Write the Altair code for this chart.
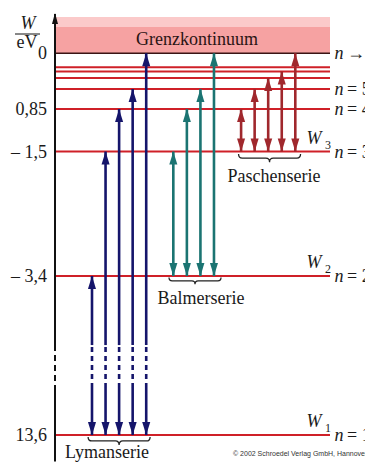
import altair as alt
import pandas as pd

# ---------------- data ----------------
level_n = [1, 2, 3, 4, 5, 6, 7, 8]
level_W = [-13.6, -3.4, -1.5, -0.85, -0.544, -0.378, -0.278, -0.2125]
limit_W = 0.0

series_names = ["Lymanserie", "Balmerserie", "Paschenserie"]
series_colors = ["#15156b", "#1b7472", "#a0282d"]

lyman_slot = [0, 1, 2, 3, 4]
lyman_upper = [-3.4, -1.5, -0.85, -0.544, 0.0]
lyman_lower = -13.6
balmer_slot = [6, 7, 8, 9]
balmer_upper = [-1.5, -0.85, -0.544, 0.0]
balmer_lower = -3.4
paschen_slot = [11, 12, 13, 14, 15]
paschen_upper = [-0.85, -0.544, -0.378, -0.278, 0.0]
paschen_lower = -1.5

tick_values = [0, -0.85, -1.5, -3.4, -13.6]
tick_labels = ["0", "0,85", "\u2013 1,5", "\u2013 3,4", "13,6"]

right_W = [0.0, -0.544, -0.85, -1.5, -3.4, -13.6]
right_text = ["\u2192 \u221e", "= 5", "= 4", "= 3", "= 2", "= 1"]

wlabel_W = [-1.5, -3.4, -13.6]
wlabel_sub = ["3", "2", "1"]

# axis break (drawn dashed)
gap_hi, gap_lo = -7.83, -10.58

# ---------------- tables ----------------
arrows = []
for s, lo, ups, slots in [
    ("Lymanserie", lyman_lower, lyman_upper, lyman_slot),
    ("Balmerserie", balmer_lower, balmer_upper, balmer_slot),
    ("Paschenserie", paschen_lower, paschen_upper, paschen_slot),
]:
    for sl, up in zip(slots, ups):
        arrows.append({"series": s, "slot": sl, "lower": lo, "upper": up})
arrows = pd.DataFrame(arrows)

solid = []
dashed = []
for _, r in arrows.iterrows():
    if r.series == "Lymanserie":
        solid.append({"series": r.series, "slot": r.slot, "a": r.lower, "b": gap_lo})
        solid.append({"series": r.series, "slot": r.slot, "a": gap_hi, "b": r.upper})
        dashed.append({"series": r.series, "slot": r.slot, "a": gap_lo, "b": gap_hi})
    else:
        solid.append({"series": r.series, "slot": r.slot, "a": r.lower, "b": r.upper})
solid = pd.DataFrame(solid)
dashed = pd.DataFrame(dashed)

levels = pd.DataFrame({"n": level_n, "W": level_W})
zero = pd.DataFrame({"W": [limit_W]})
cont = pd.DataFrame({"a": [0.0, 0.40], "b": [0.40, 0.554], "c": ["#f6a2a2", "#fbcaca"]})
ticks = pd.DataFrame({"W": tick_values, "t": tick_labels})

W_PX, H_PX = 275, 436
xs = alt.Scale(domain=[-2.73, 17.56], nice=False, zero=False)
ys = alt.Scale(domain=[-14.56, -3.4, 0.6], range=[H_PX, 262, 0], nice=False, zero=False)
cs = alt.Scale(domain=series_names, range=series_colors)

SERIF = "'Liberation Serif', 'Times New Roman', 'DejaVu Serif', 'Noto Serif', Times, serif"
SANS = "'Liberation Sans', Arial, 'DejaVu Sans', sans-serif"
INK = "#1a1a1a"


def Y(field):
    return alt.Y(field, scale=ys, axis=None)


# continuum
cont_layer = alt.Chart(cont).mark_rect().encode(
    x=alt.value(0), x2=alt.value(W_PX),
    y=Y("a:Q"), y2="b:Q",
    color=alt.Color("c:N", scale=None),
)

level_layer = alt.Chart(levels).mark_rule(color="#cf2028", strokeWidth=2).encode(
    x=alt.value(0), x2=alt.value(W_PX), y=Y("W:Q"),
)

zero_layer = alt.Chart(zero).mark_rule(color="#3a1414", strokeWidth=1.6).encode(
    x=alt.value(0), x2=alt.value(W_PX), y=Y("W:Q"),
)

tick_layer = alt.Chart(ticks).mark_text(
    font=SERIF, fontSize=18, align="right", baseline="middle", color=INK, dy=1
).encode(x=alt.value(-8), y=Y("W:Q"), text="t:N")

# y-axis line with break and arrow
axis_seg = pd.DataFrame({"a": [0.6, gap_lo], "b": [gap_hi, -15.3]})
axis_dash = pd.DataFrame({"a": [gap_hi], "b": [gap_lo]})
axis_layer = alt.Chart(axis_seg).mark_rule(color="#111", strokeWidth=2).encode(
    x=alt.value(0), y=Y("a:Q"), y2="b:Q")
axis_dash_layer = alt.Chart(axis_dash).mark_rule(color="#111", strokeWidth=2, strokeDash=[6, 4]).encode(
    x=alt.value(0), y=Y("a:Q"), y2="b:Q")
axis_head = alt.Chart(pd.DataFrame({"a": [0.615]})).mark_point(
    shape="M0,0 L-0.55,2 L0.55,2 Z", filled=True, size=121, color="#111", opacity=1, strokeWidth=0
).encode(x=alt.value(0), y=Y("a:Q"))

# arrows
X = alt.X("slot:Q", scale=xs, axis=None)
C = alt.Color("series:N", scale=cs, legend=None)
arr_solid = alt.Chart(solid).mark_rule(strokeWidth=2.6).encode(x=X, y=Y("a:Q"), y2="b:Q", color=C)
arr_dash = alt.Chart(dashed).mark_rule(strokeWidth=2.6, strokeDash=[5, 4]).encode(
    x=X, y=Y("a:Q"), y2="b:Q", color=C)
head_up = alt.Chart(arrows).mark_point(
    shape="M0,0 L-0.62,2 L0.62,2 Z", filled=True, size=169, opacity=1, strokeWidth=0
).encode(x=X, y=Y("upper:Q"), color=C)
head_down = alt.Chart(arrows).mark_point(
    shape="M0,0 L-0.62,-2 L0.62,-2 Z", filled=True, size=169, opacity=1, strokeWidth=0
).encode(x=X, y=Y("lower:Q"), color=C)

# braces
braces = pd.DataFrame({"slot": [2.0, 7.6, 13.1], "W": [-13.98, -3.71, -1.6],
                       "area": [62 ** 2, 52 ** 2, 62 ** 2]})
brace_layer = alt.Chart(braces).mark_point(
    shape="M-1,-0.13 Q-1,0 -0.88,0 L-0.12,0 Q0,0 0,0.13 Q0,0 0.12,0 L0.88,0 Q1,0 1,-0.13",
    filled=False, color="#222", strokeWidth=1.3, opacity=1
).encode(x=X, y=Y("W:Q"), size=alt.Size("area:Q", scale=None))


# annotations
def text_at(txt, x, y, size=18, font=SERIF, style="normal", align="center", color=INK):
    return alt.Chart(pd.DataFrame({"t": [txt]})).mark_text(
        font=font, fontSize=size, fontStyle=style, align=align, baseline="middle", color=color
    ).encode(text="t:N", x=alt.value(x), y=alt.value(y))


ann = [
    text_at("Grenzkontinuum", 142, 26, color="#2a1414"),
    text_at("Lymanserie", 52, 439),
    text_at("Balmerserie", 146, 285),
    text_at("Paschenserie", 219, 163),
    text_at("W", -27, 10, style="italic"),
    text_at("eV", -28, 29),
    text_at("\u00a9 2002 Schroedel Verlag GmbH, Hannover", 178, 440, size=7,
            font=SANS, align="left", color="#333"),
]
frac = alt.Chart(pd.DataFrame({"v": [1]})).mark_rule(color="#111", strokeWidth=1).encode(
    x=alt.value(-40), x2=alt.value(-15), y=alt.value(20))

right_df = pd.DataFrame({"W": right_W, "t": right_text})
n_layer = alt.Chart(right_df).mark_text(
    font=SERIF, fontSize=18, fontStyle="italic", align="center", baseline="middle", dy=1, color=INK
).encode(x=alt.value(284), y=Y("W:Q"), text=alt.value("n"))
eq_layer = alt.Chart(right_df).mark_text(
    font=SERIF, fontSize=18, align="left", baseline="middle", dy=1, color=INK
).encode(x=alt.value(292), y=Y("W:Q"), text="t:N")

wl_df = pd.DataFrame({"W": wlabel_W, "s": wlabel_sub})
wl_layer = alt.Chart(wl_df).mark_text(
    font=SERIF, fontSize=18, fontStyle="italic", align="center", baseline="middle", dy=-13, color=INK
).encode(x=alt.value(259), y=Y("W:Q"), text=alt.value("W"))
ws_layer = alt.Chart(wl_df).mark_text(
    font=SERIF, fontSize=12, align="center", baseline="middle", dy=-7, color=INK
).encode(x=alt.value(273), y=Y("W:Q"), text="s:N")

chart = alt.layer(
    cont_layer, level_layer, zero_layer, tick_layer, axis_layer, axis_dash_layer, axis_head,
    arr_solid, arr_dash, head_up, head_down, brace_layer,
    *ann, frac, n_layer, eq_layer, wl_layer, ws_layer,
).properties(
    width=W_PX, height=H_PX,
    padding={"left": 47, "top": 6, "right": 35, "bottom": 12},
    autosize=alt.AutoSizeParams(type="none"),
    background="white",
).configure_view(stroke=None)

chart.save("out.html", embed_options={"renderer": "svg", "actions": False})
